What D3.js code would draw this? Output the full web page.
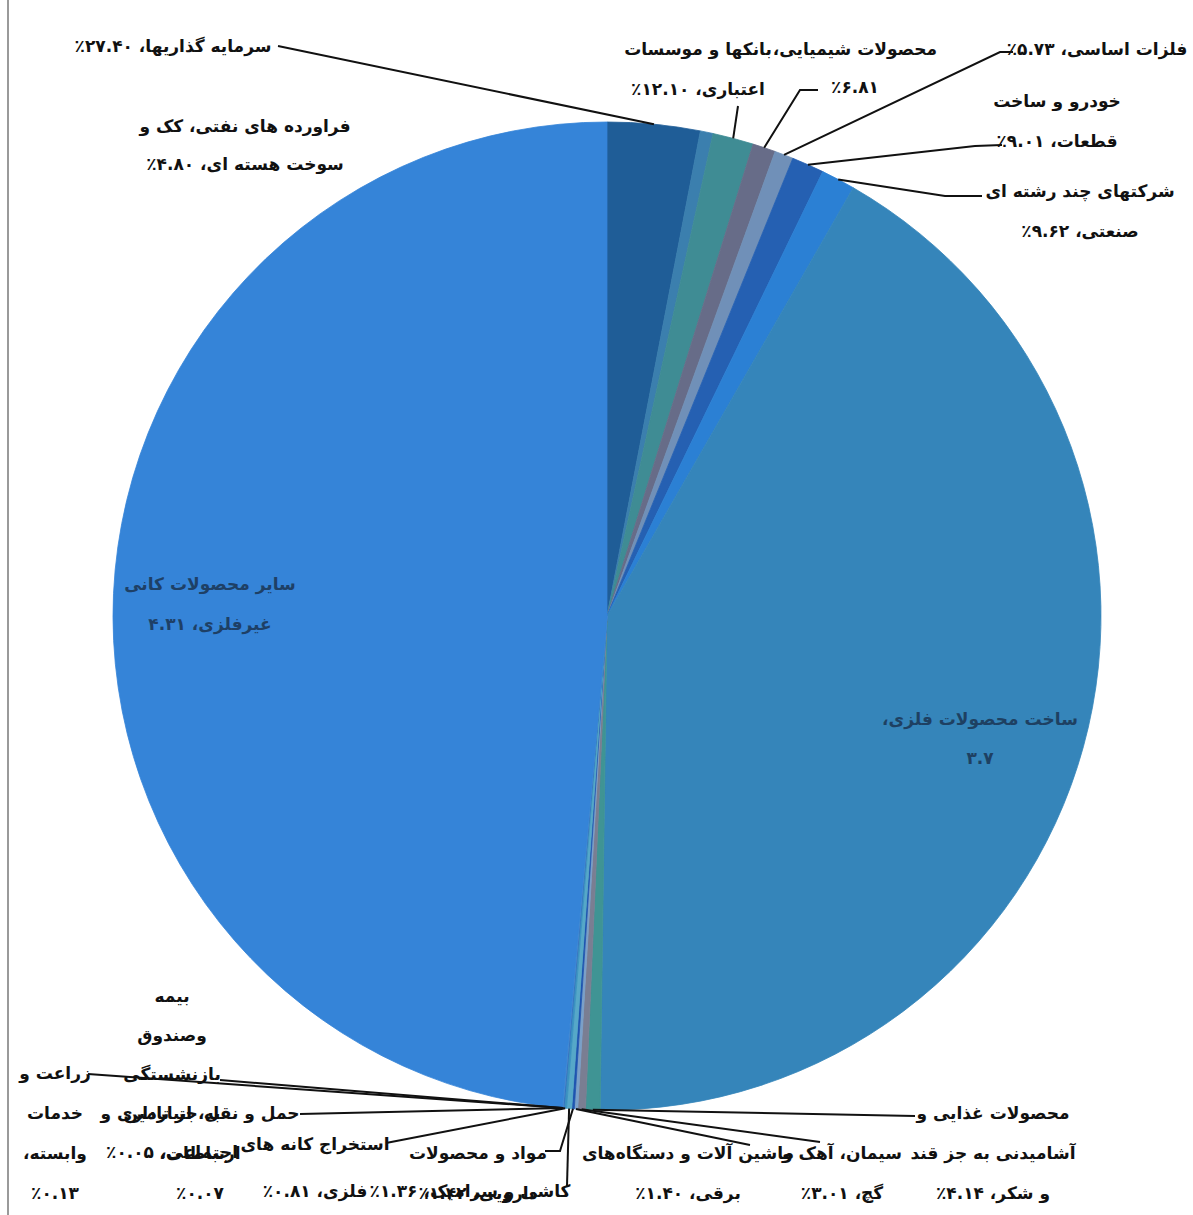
<!DOCTYPE html>
<html><head><meta charset="utf-8">
<script src="https://cdn.jsdelivr.net/npm/d3@7/dist/d3.min.js"></script>
<style>
html,body{margin:0;padding:0;background:#fff;}
svg{display:block;}
text{font-family:"DejaVu Sans",sans-serif;font-weight:bold;}
</style></head>
<body>
<script>
// ---- data (slice sizes, in degrees of arc) ----
const categories = [
  "سرمایه گذاریها",
  "فراورده های نفتی، کک و سوخت هسته ای",
  "بانکها و موسسات اعتباری",
  "محصولات شیمیایی",
  "فلزات اساسی",
  "خودرو و ساخت قطعات",
  "شرکتهای چند رشته ای صنعتی",
  "ساخت محصولات فلزی",
  "محصولات غذایی و آشامیدنی به جز قند و شکر",
  "سیمان، آهک و گچ",
  "ماشین آلات و دستگاه‌های برقی",
  "مواد و محصولات دارویی",
  "کاشی و سرامیک",
  "استخراج کانه های فلزی",
  "حمل و نقل، انبارداری و ارتباطات",
  "زراعت و خدمات وابسته",
  "بیمه وصندوق بازنشستگی به جز تامین اجتماعی",
  "سایر محصولات کانی غیرفلزی"
];
const sliceValues = [10.9, 1.5, 4.8, 2.7, 2.2, 3.8, 4.0, 150.9, 1.7, 0.9, 0.4, 0.3, 0.6, 0.3, 0.1, 0.05, 0.05, 174.8];
const labelTexts = [
  ["سرمایه گذاریها، ٪۲۷.۴۰"],
  ["فراورده های نفتی، کک و", "سوخت هسته ای، ٪۴.۸۰"],
  ["بانکها و موسسات", "اعتباری، ٪۱۲.۱۰"],
  ["محصولات شیمیایی،", "٪۶.۸۱"],
  ["فلزات اساسی، ٪۵.۷۳"],
  ["خودرو و ساخت", "قطعات، ٪۹.۰۱"],
  ["شرکتهای چند رشته ای", "صنعتی، ٪۹.۶۲"],
  ["ساخت محصولات فلزی،", "۳.۷"],
  ["محصولات غذایی و", "آشامیدنی به جز قند", "و شکر، ٪۴.۱۴"],
  ["سیمان، آهک و", "گچ، ٪۳.۰۱"],
  ["ماشین آلات و دستگاه‌های", "برقی، ٪۱.۴۰"],
  ["مواد و محصولات", "دارویی، ٪۱.۴۲"],
  ["کاشی و سرامیک، ٪۱.۳۶"],
  ["استخراج کانه های", "فلزی، ٪۰.۸۱"],
  ["حمل و نقل، انبارداری و", "ارتباطات،", "٪۰.۰۷"],
  ["زراعت و", "خدمات", "وابسته،", "٪۰.۱۳"],
  ["بیمه", "وصندوق", "بازنشستگی", "به جز تامین", "اجتماعی، ٪۰.۰۵"],
  ["سایر محصولات کانی", "غیرفلزی، ۴.۳۱"]
];
const sliceColors = ["#1f5d97","#3b7fae","#3f8c94","#676c88","#7090b8","#2560b2","#2b80d4","#3585ba",
  "#3f9494","#7a7e92","#7aa0c8","#1f55b0","#56a8c8","#3a90c0","#3070c0","#4a80c8","#4a90d0","#3584d8"];

// ---- layout (label placement) ----
const W = 1193, H = 1215;
const cx = 607, cy = 616, R = 494;
const labelLayout = [
  {x:173, y:52, step:40, leader:[[278,46]]},
  {x:245, y:132, step:38, leader:null},
  {x:698, y:55, step:40, leader:[[738,106]]},
  {x:855, y:55, step:38, leader:[[818,90],[800,90]]},
  {x:1097, y:55, step:40, leader:[[1013,52],[1000,52]]},
  {x:1057, y:107, step:40, leader:[[1002,145],[975,146]]},
  {x:1080, y:197, step:40, leader:[[982,196],[945,196]]},
  {x:980, y:725, step:39, inside:true, leader:null},
  {x:993, y:1119, step:40, leader:[[915,1116]]},
  {x:842, y:1159, step:40, leader:[[820,1142]]},
  {x:688, y:1159, step:40, leader:[[750,1145]]},
  {x:478, y:1159, step:40, leader:[[545,1151],[560,1151]]},
  {x:470, y:1197, step:40, leader:[[567,1186]]},
  {x:315, y:1150, step:47, leader:[[386,1143]]},
  {x:200, y:1119, step:40, leader:[[300,1114]]},
  {x:55, y:1079, step:40, leader:[[88,1074]]},
  {x:172, y:1002, step:39, leader:[[220,1080]]},
  {x:210, y:590, step:40, inside:true, leader:null}
];

// keep the percent sign on the left of the number, as in the reference
const fixPct = s => s.replace(/٪[۰-۹.]+/g, m => "\u202D" + m + "\u202C");

const svg = d3.select("body").append("svg").attr("width", W).attr("height", H);
svg.append("rect").attr("width", W).attr("height", H).attr("fill", "#fff");
svg.append("line").attr("x1", 8).attr("x2", 8).attr("y1", 0).attr("y2", H)
  .attr("stroke", "#9a9a9a").attr("stroke-width", 2);

const data = categories.map((c, i) => ({name: c, value: sliceValues[i], color: sliceColors[i], lines: labelTexts[i], lay: labelLayout[i]}));
const pie = d3.pie().sort(null).value(d => d.value);
const arcs = pie(data);
const arc = d3.arc().innerRadius(0).outerRadius(R);

const g = svg.append("g").attr("transform", `translate(${cx},${cy})`);
g.selectAll("path.slice").data(arcs).join("path")
  .attr("class", "slice")
  .attr("d", arc)
  .attr("fill", d => d.data.color)
  .attr("stroke", d => d.data.color)
  .attr("stroke-width", 0.8);

const leaderGen = d3.line();
arcs.forEach(a => {
  const lay = a.data.lay;
  if (!lay.leader) return;
  const mid = (a.startAngle + a.endAngle) / 2;
  const end = [cx + R * Math.sin(mid), cy - R * Math.cos(mid)];
  const pts = lay.leader.concat([end]);
  svg.append("path").attr("d", leaderGen(pts))
    .attr("fill", "none").attr("stroke", "#111").attr("stroke-width", 2);
});

arcs.forEach(a => {
  const d = a.data, lay = d.lay;
  const t = svg.append("text")
    .attr("text-anchor", "middle")
    .attr("direction", "rtl")
    .attr("font-size", 17)
    .attr("fill", lay.inside ? "#1b3553" : "#111");
  if (lay.inside) t.attr("opacity", 0.85);
  d.lines.forEach((ln, k) => {
    t.append("tspan").attr("x", lay.x).attr("y", lay.y + k * lay.step).text(fixPct(ln));
  });
});
</script>
</body></html>
